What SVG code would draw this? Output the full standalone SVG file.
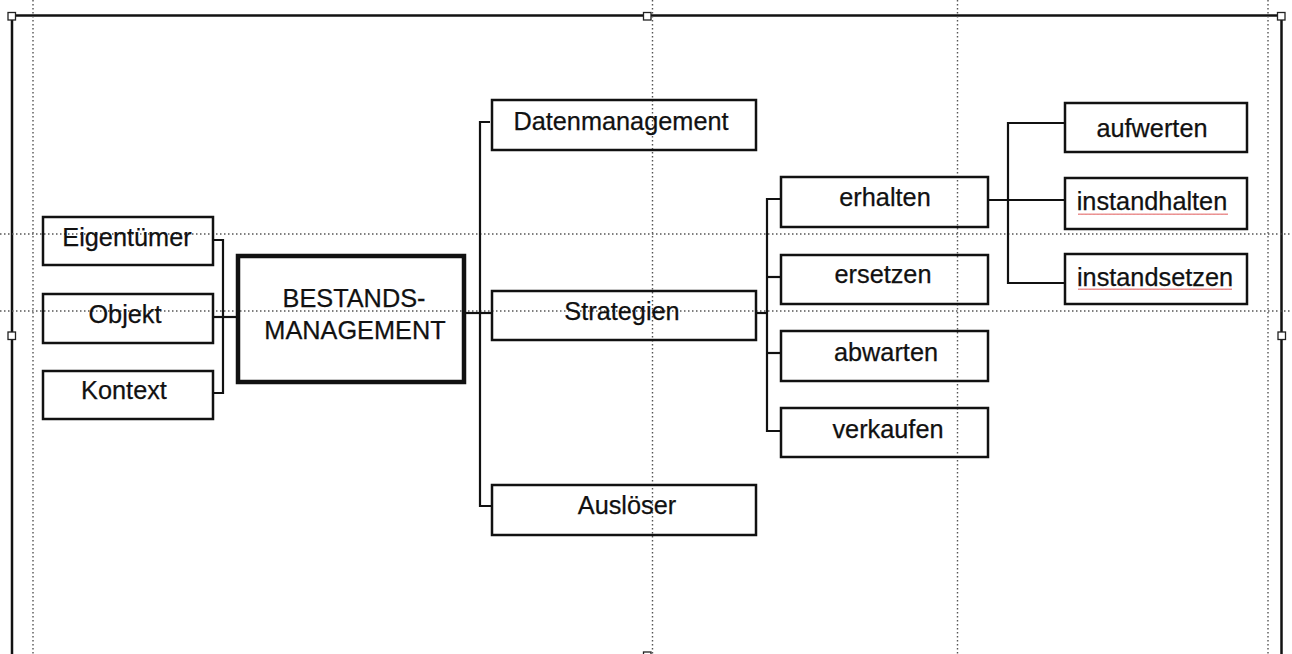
<svg xmlns="http://www.w3.org/2000/svg" width="1292" height="654" viewBox="0 0 1292 654">
  <style>
    .guide { stroke: #555; stroke-width: 1.4; stroke-dasharray: 1.5 2.5; fill: none; }
    .frame { stroke: #111; stroke-width: 2.5; fill: none; }
    .handle { fill: #fff; stroke: #222; stroke-width: 1.3; }
    .box { fill: none; stroke: #111; stroke-width: 2.5; }
    .main { fill: none; stroke: #111; stroke-width: 4.5; }
    .wire { fill: none; stroke: #111; stroke-width: 2.2; }
    .label { font-family: "Liberation Sans", Arial, Helvetica, sans-serif; font-size: 25.3px; fill: #111; stroke: #111; stroke-width: 0.25; text-anchor: middle; }
  </style>
  <defs>
    <pattern id="squiggle" width="4" height="3" patternUnits="userSpaceOnUse">
      <path d="M0,2 L1,0.5 L2,2 L3,0.5 L4,2" fill="none" stroke="#e06060" stroke-width="0.8"/>
    </pattern>
  </defs>

  <rect width="1292" height="654" fill="#fff"/>

  <!-- page frame with selection handles -->
  <g id="frame">
    <line class="frame" x1="12" y1="15.5" x2="1282" y2="15.5"/>
    <line class="frame" x1="12" y1="15.5" x2="12" y2="654"/>
    <line class="frame" x1="1281.5" y1="15.5" x2="1281.5" y2="654"/>
    <rect class="handle" x="8" y="12.5" width="7.5" height="7.5"/>
    <rect class="handle" x="643.5" y="12.5" width="7.5" height="7.5"/>
    <rect class="handle" x="1277.5" y="12.5" width="7.5" height="7.5"/>
    <rect class="handle" x="8" y="332" width="7.5" height="7.5"/>
    <rect class="handle" x="1278" y="332" width="7.5" height="7.5"/>
    <rect class="handle" x="643.5" y="652" width="7.5" height="7.5"/>
  </g>

  <!-- layout guides -->
  <g id="guides">
    <line class="guide" x1="33" y1="0" x2="33" y2="654"/>
    <line class="guide" x1="652.5" y1="0" x2="652.5" y2="654"/>
    <line class="guide" x1="957.5" y1="0" x2="957.5" y2="654"/>
    <line class="guide" x1="1268" y1="0" x2="1268" y2="654"/>
    <line class="guide" x1="0" y1="234" x2="1292" y2="234"/>
    <line class="guide" x1="0" y1="311" x2="1292" y2="311"/>
  </g>

  <!-- connectors -->
  <g id="connectors">
    <path class="wire" d="M213,240 H223 V393 H213"/>
    <path class="wire" d="M213,317 H237"/>
    <path class="wire" d="M465,313 H492"/>
    <path class="wire" d="M490,122 H480 V506 H491"/>
    <path class="wire" d="M756,313 H767"/>
    <path class="wire" d="M781,199 H767 V431 H781"/>
    <path class="wire" d="M767,277 H781"/>
    <path class="wire" d="M767,353 H781"/>
    <path class="wire" d="M988,200 H1065"/>
    <path class="wire" d="M1065,123 H1008 V283 H1065"/>
  </g>

  <g id="eigentuemer">
    <rect class="box" x="43" y="217" width="170" height="48"/>
    <text class="label" x="127" y="246">Eigentümer</text>
  </g>
  <g id="objekt">
    <rect class="box" x="43" y="294" width="170" height="49"/>
    <text class="label" x="125" y="323">Objekt</text>
  </g>
  <g id="kontext">
    <rect class="box" x="43" y="371" width="170" height="48"/>
    <text class="label" x="124" y="399">Kontext</text>
  </g>

  <g id="bestandsmanagement">
    <rect class="main" x="238" y="256" width="226" height="126"/>
    <text class="label" x="354" y="307">BESTANDS-</text>
    <text class="label" x="355" y="339">MANAGEMENT</text>
  </g>

  <g id="datenmanagement">
    <rect class="box" x="492" y="100" width="264" height="50"/>
    <text class="label" x="621" y="130">Datenmanagement</text>
  </g>
  <g id="strategien">
    <rect class="box" x="492" y="291" width="264" height="49"/>
    <text class="label" x="622" y="320">Strategien</text>
  </g>
  <g id="ausloeser">
    <rect class="box" x="492" y="485" width="264" height="50"/>
    <text class="label" x="627" y="514">Auslöser</text>
  </g>

  <g id="erhalten">
    <rect class="box" x="781" y="177" width="207" height="50"/>
    <text class="label" x="885" y="206">erhalten</text>
  </g>
  <g id="ersetzen">
    <rect class="box" x="781" y="255" width="207" height="49"/>
    <text class="label" x="883" y="283">ersetzen</text>
  </g>
  <g id="abwarten">
    <rect class="box" x="781" y="331" width="207" height="50"/>
    <text class="label" x="886" y="361">abwarten</text>
  </g>
  <g id="verkaufen">
    <rect class="box" x="781" y="408" width="207" height="49"/>
    <text class="label" x="888" y="438">verkaufen</text>
  </g>

  <g id="aufwerten">
    <rect class="box" x="1065" y="103" width="182" height="49"/>
    <text class="label" x="1152" y="137">aufwerten</text>
  </g>
  <g id="instandhalten">
    <rect class="box" x="1065" y="178" width="182" height="51"/>
    <text class="label" x="1152" y="210">instandhalten</text>
    <rect x="1078" y="212" width="150" height="3" fill="url(#squiggle)"/>
  </g>
  <g id="instandsetzen">
    <rect class="box" x="1065" y="254" width="182" height="50"/>
    <text class="label" x="1155" y="286">instandsetzen</text>
    <rect x="1078" y="288" width="154" height="3" fill="url(#squiggle)"/>
  </g>
</svg>
